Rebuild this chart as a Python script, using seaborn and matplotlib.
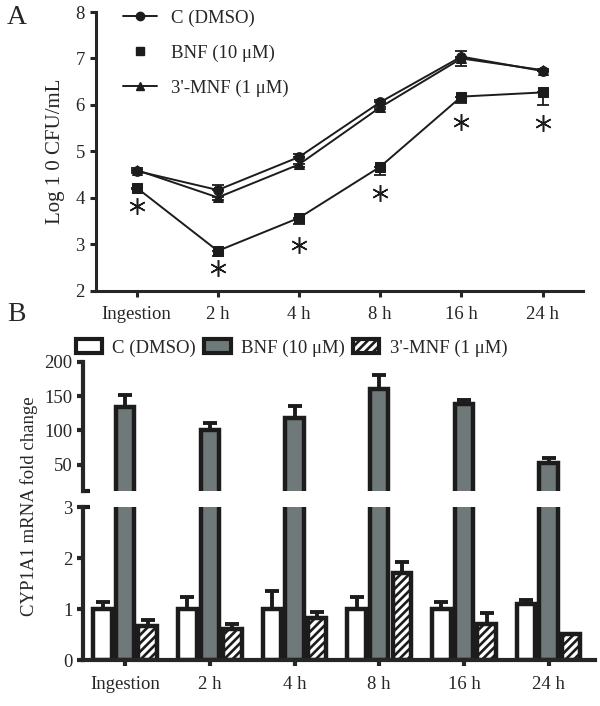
"""
Two-panel figure: bacterial load time course (A) and CYP1A1 fold change with a
broken y-axis (B).
"""
import pandas as pd
import matplotlib
matplotlib.use("Agg")
import matplotlib.pyplot as plt
from matplotlib.lines import Line2D
from matplotlib.patches import Patch
import seaborn as sns

times = ["Ingestion", "2 h", "4 h", "8 h", "16 h", "24 h"]
groups = ["C (DMSO)", "BNF (10 μM)", "3'-MNF (1 μM)"]

# panel A: log10 CFU/mL
cfu_c = [4.58, 4.17, 4.88, 6.06, 7.04, 6.73]
cfu_c_err = [0.06, 0.10, 0.07, 0.05, 0.13, 0.04]
cfu_bnf = [4.22, 2.86, 3.57, 4.67, 6.18, 6.27]
cfu_bnf_err = [0.03, 0.12, 0.14, 0.17, 0.13, 0.27]
cfu_mnf = [4.60, 4.01, 4.72, 5.95, 7.00, 6.75]
cfu_mnf_err = [0.06, 0.05, 0.06, 0.04, 0.17, 0.03]
star_y = [3.83, 2.49, 2.99, 4.11, 5.64, 5.61]

# panel B: CYP1A1 mRNA fold change
fold_c = [1.0, 1.0, 1.0, 1.0, 1.0, 1.1]
fold_c_err = [0.15, 0.25, 0.37, 0.24, 0.15, 0.08]
fold_bnf = [134, 101, 118, 160, 139, 53]
fold_bnf_err = [17, 10, 17, 21, 6, 7]
fold_mnf = [0.68, 0.61, 0.84, 1.72, 0.71, 0.51]
fold_mnf_err = [0.12, 0.10, 0.10, 0.20, 0.22, 0.0]

sns.set_style("ticks")
plt.rcParams["font.family"] = ["Liberation Serif", "DejaVu Serif"]
plt.rcParams["hatch.linewidth"] = 1.9

INK = "#1c1c1c"
GREY = "#6e7a7a"
TICK_FS = 13.5

fig = plt.figure(figsize=(6, 7.06), dpi=100)
axA = fig.add_axes([0.16, 0.588, 0.812, 0.395])
axBu = fig.add_axes([0.138, 0.3045, 0.854, 0.1832])
axBl = fig.add_axes([0.138, 0.0645, 0.854, 0.2169])

# ---------------- panel A ----------------
dfA = pd.DataFrame({
    "time": times * 3,
    "value": cfu_c + cfu_bnf + cfu_mnf,
    "group": [g for g in groups for _ in times],
})
sns.lineplot(data=dfA, x="time", y="value", hue="group", style="group",
             markers={groups[0]: "o", groups[1]: "s", groups[2]: "^"},
             dashes=False, palette=[INK] * 3, markersize=7, linewidth=1.4,
             markeredgecolor=INK, sort=False, legend=False, ax=axA)

xs = list(range(len(times)))
zeros = [0] * len(times)
axA.errorbar(xs, cfu_c, yerr=[zeros, cfu_c_err], fmt="none", ecolor=INK,
             elinewidth=1.3, capsize=4, capthick=1.3)
axA.errorbar(xs, cfu_bnf, yerr=[cfu_bnf_err, zeros], fmt="none", ecolor=INK,
             elinewidth=1.3, capsize=4, capthick=1.3)
axA.errorbar(xs, cfu_mnf, yerr=[cfu_mnf_err, zeros], fmt="none", ecolor=INK,
             elinewidth=1.3, capsize=4, capthick=1.3)
axA.plot(xs, star_y, ls="none", marker=(6, 2, 0), ms=12, mew=1.1, color=INK)

axA.set_xlim(-0.5, 5.5)
axA.set_ylim(2, 8)
axA.set_yticks(range(2, 9))
axA.set_xlabel("")
axA.set_ylabel("")
sns.despine(ax=axA)
for s in ["left", "bottom"]:
    axA.spines[s].set_linewidth(2.2)
axA.tick_params(width=2.2, length=4, labelsize=TICK_FS, direction="out", pad=4)
axA.tick_params(axis="x", pad=7)

handlesA = [
    Line2D([0], [0], color=INK, marker="o", lw=1.4, ms=6),
    Line2D([0], [0], color=INK, marker="s", ls="none", ms=6),
    Line2D([0], [0], color=INK, marker="^", lw=1.4, ms=6),
]
axA.legend(handlesA, groups, loc="upper left", bbox_to_anchor=(0.055, 1.01),
           frameon=False, fontsize=13.5, handlelength=1.8, handletextpad=0.75,
           labelspacing=0.95, borderaxespad=0, borderpad=0)
axA.set_xticks(xs)
axA.set_xticklabels(times)

# ---------------- panel B ----------------
dfB = pd.DataFrame({
    "time": times * 3,
    "value": fold_c + fold_bnf + fold_mnf,
    "group": [g for g in groups for _ in times],
})
pal = {groups[0]: "white", groups[1]: GREY, groups[2]: "white"}
errs = [fold_c_err, fold_bnf_err, fold_mnf_err]
vals = [fold_c, fold_bnf, fold_mnf]

for ax in (axBu, axBl):
    sns.barplot(data=dfB, x="time", y="value", hue="group", hue_order=groups,
                palette=pal, edgecolor=INK, linewidth=3.2, errorbar=None,
                width=0.8, gap=0.18, legend=False, ax=ax)
    for bar in ax.containers[2]:
        bar.set_hatch("////")
    for cont, v, e in zip(ax.containers, vals, errs):
        centers = [b.get_x() + b.get_width() / 2 for b in cont]
        ax.errorbar(centers, v, yerr=[[0] * len(v), e], fmt="none",
                    ecolor=INK, elinewidth=2.8, capsize=5, capthick=2.8,
                    zorder=1)
    ax.set_xlim(-0.5, 5.55)
    ax.set_xlabel("")
    ax.set_ylabel("")
    sns.despine(ax=ax)
    for s in ["left", "bottom"]:
        ax.spines[s].set_linewidth(3)
    ax.tick_params(width=3, length=4.5, labelsize=TICK_FS, direction="out", pad=3)

axBu.set_ylim(12, 200)
axBu.set_yticks([50, 100, 150, 200])
axBu.spines["bottom"].set_visible(False)
axBu.tick_params(axis="x", bottom=False, labelbottom=False)
axBu.plot([-0.004, 0.014], [0, 0], transform=axBu.transAxes, color=INK,
          lw=3, clip_on=False, solid_capstyle="butt")

axBl.set_ylim(0, 3)
axBl.set_yticks([0, 1, 2, 3])
axBl.plot([0, 0.014], [1, 1], transform=axBl.transAxes, color=INK,
          lw=3, clip_on=False, solid_capstyle="butt")
axBl.set_xticks(range(len(times)))
axBl.set_xticklabels(times)
axBl.tick_params(axis="x", pad=7)

handlesB = [Patch(facecolor="white", edgecolor=INK, linewidth=3),
            Patch(facecolor=GREY, edgecolor=INK, linewidth=3),
            Patch(facecolor="white", edgecolor=INK, linewidth=3, hatch="////")]
fig.legend(handlesB, groups, loc="center left", bbox_to_anchor=(0.126, 0.507),
           ncol=3, frameon=False, fontsize=13.5, handlelength=1.4,
           handleheight=0.75, handletextpad=0.55, columnspacing=0.45,
           borderpad=0, borderaxespad=0)

fig.text(0.092, 0.786, "Log 1 0 CFU/mL", rotation=90, ha="center",
         va="center", fontsize=15)
fig.text(0.048, 0.283, "CYP1A1 mRNA fold change", rotation=90, ha="center",
         va="center", fontsize=13.5)
fig.text(0.012, 0.975, "A", fontsize=20, va="center")
fig.text(0.012, 0.554, "B", fontsize=20, va="center")

fig.savefig("out.png", dpi=100)
plt.close(fig)
